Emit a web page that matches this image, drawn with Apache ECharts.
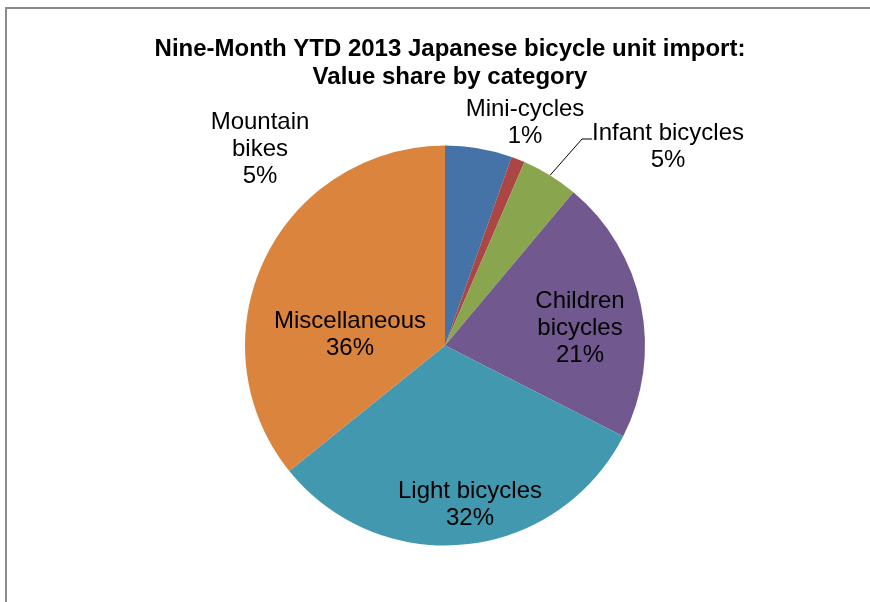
<!DOCTYPE html>
<html>
<head>
<meta charset="utf-8">
<script src="https://cdn.jsdelivr.net/npm/echarts@6/dist/echarts.min.js"></script>
<style>
  html, body { margin: 0; padding: 0; background: #fff; }
  #main { width: 870px; height: 602px; }
</style>
</head>
<body>
<div id="main"></div>
<script>
// categories and value shares (%)
var categories = ['Mountain\nbikes', 'Mini-cycles', 'Infant bicycles', 'Children\nbicycles', 'Light bicycles', 'Miscellaneous'];
var shares = [5.4, 1.1, 4.6, 21.4, 31.7, 35.8];
var colors = ['#4572A7', '#AA4643', '#89A54E', '#71588F', '#4198AF', '#DB843D'];

// where each label block sits (centre of the text block)
var labelCenters = [[260, 149], [525, 123], [668, 147], [580, 328], [470, 505], [350, 335]];

var chart = echarts.init(document.getElementById('main'));

var pieData = categories.map(function (name, i) {
    return {
        name: name,
        value: shares[i],
        itemStyle: { color: colors[i] },
        labelLine: { show: i === 2 }
    };
});

var option = {
    animation: false,
    backgroundColor: '#ffffff',
    title: {
        text: 'Nine-Month YTD 2013 Japanese bicycle unit import:\nValue share by category',
        left: 445,
        textAlign: 'center',
        top: 30,
        textStyle: {
            fontFamily: 'Liberation Sans',
            fontWeight: 'bold',
            fontSize: 24,
            lineHeight: 28,
            color: '#000'
        }
    },
    graphic: [{
        type: 'rect',
        shape: { x: 6, y: 8, width: 900, height: 700 },
        style: { fill: null, stroke: '#8a8a8a', lineWidth: 2 },
        silent: true
    }],
    series: [{
        type: 'pie',
        center: [445, 345.5],
        radius: 200,
        startAngle: 90,
        clockwise: true,
        avoidLabelOverlap: false,
        emphasis: { disabled: true },
        itemStyle: { borderWidth: 0 },
        label: {
            show: true,
            position: 'outside',
            formatter: function (p) {
                return p.name + '\n' + Math.round(p.percent) + '%';
            },
            fontFamily: 'Liberation Sans',
            fontSize: 24,
            lineHeight: 27,
            color: '#000',
            align: 'center'
        },
        labelLine: {
            lineStyle: { color: '#000', width: 1 }
        },
        labelLayout: function (params) {
            var c = labelCenters[params.dataIndex];
            var res = { x: c[0], y: c[1], align: 'center', verticalAlign: 'middle' };
            if (params.dataIndex === 2 && params.labelLinePoints) {
                var p0 = params.labelLinePoints[0];
                res.labelLinePoints = [p0, [582, 139], [592, 139]];
            }
            return res;
        },
        data: pieData
    }]
};

chart.setOption(option);
</script>
</body>
</html>
